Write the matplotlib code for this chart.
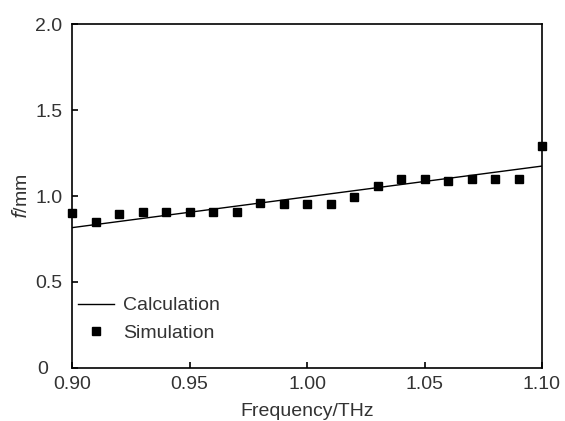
import numpy as np
import matplotlib
matplotlib.use("Agg")
import matplotlib.pyplot as plt
import matplotlib.transforms as mtransforms

# simulated focal length points
freq_sim = [0.90, 0.91, 0.92, 0.93, 0.94, 0.95, 0.96, 0.97, 0.98, 0.99, 1.00,
            1.01, 1.02, 1.03, 1.04, 1.05, 1.06, 1.07, 1.08, 1.09, 1.10]
f_sim = [0.90, 0.847, 0.897, 0.905, 0.905, 0.905, 0.905, 0.905, 0.961, 0.951, 0.951,
         0.951, 0.992, 1.058, 1.099, 1.099, 1.089, 1.099, 1.099, 1.099, 1.29]

# calculated curve
freq_calc = [0.90, 1.00, 1.10]
f_calc = [0.816, 0.995, 1.174]

xticks = [0.90, 0.95, 1.00, 1.05, 1.10]
xticklabels = ["0.90", "0.95", "1.00", "1.05", "1.10"]
yticks = [0, 0.5, 1.0, 1.5, 2.0]
yticklabels = ["0", "0.5", "1.0", "1.5", "2.0"]

plt.rcParams['font.family'] = ['Liberation Sans', 'DejaVu Sans']

fig = plt.figure(figsize=(5.65, 4.21), dpi=100)
ax = fig.add_axes([72 / 565, 1 - 368 / 421, 470 / 565, 344 / 421])

ax.plot(freq_calc, f_calc, color="black", lw=1.0, label="Calculation")
ax.plot(freq_sim, f_sim, ls="none", marker="s", ms=6.2, color="black",
        clip_on=False, label="Simulation")

ax.set_xlim(0.90, 1.10)
ax.set_ylim(0, 2.0)
ax.set_xticks(xticks)
ax.set_xticklabels(xticklabels)
ax.set_yticks(yticks)
ax.set_yticklabels(yticklabels)
ax.tick_params(direction="in", length=4, width=1.2, labelsize=14,
               labelcolor="#333333")
ax.tick_params(axis="y", pad=7)
ax.tick_params(axis="x", pad=6)
for s in ax.spines.values():
    s.set_linewidth(1.2)

# the "0" label sits further left in the original
zero_lbl = ax.get_yticklabels()[0]
zero_lbl.set_transform(zero_lbl.get_transform() +
                       mtransforms.ScaledTranslation(-0.14, 0, fig.dpi_scale_trans))

ax.set_xlabel("Frequency/THz", fontsize=14, color="#333333", labelpad=7)
ax.set_ylabel("$\\it{f}$/mm", fontsize=14, color="#333333", labelpad=3)

ax.legend(loc="upper left", bbox_to_anchor=(0.0128, 0.207), frameon=False,
          borderaxespad=0, borderpad=0,
          fontsize=14, handlelength=1.85, handletextpad=0.45, labelspacing=0.5,
          labelcolor="#333333")

fig.savefig("out.png", dpi=100)
